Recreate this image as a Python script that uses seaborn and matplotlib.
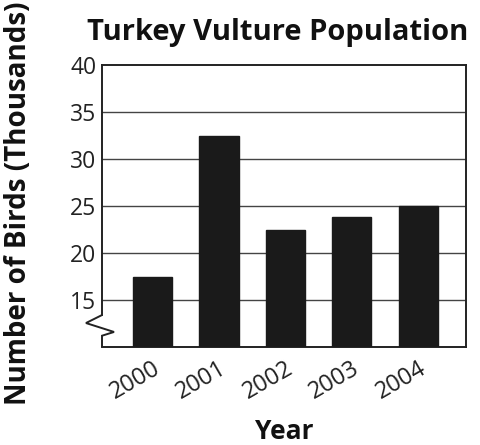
import matplotlib
matplotlib.use("Agg")
import matplotlib.pyplot as plt
import matplotlib.transforms as mtransforms
import seaborn as sns
import pandas as pd

years = ["2000", "2001", "2002", "2003", "2004"]
birds = [17.5, 32.5, 22.5, 23.8, 25.0]
yticks = [15, 20, 25, 30, 35, 40]

sns.set_theme(style="white")
plt.rcParams["font.family"] = ["Open Sans", "DejaVu Sans"]

df = pd.DataFrame({"Year": years, "Birds": birds})

fig = plt.figure(figsize=(4.8, 4.45), dpi=100)
ax = fig.add_axes([102/480, 1-347/445, 364/480, 282/445])

sns.barplot(data=df, x="Year", y="Birds", color="#1a1a1a", width=0.59,
            saturation=1, ax=ax, zorder=3)
for p in ax.patches:
    p.set_edgecolor("#1a1a1a")

ax.set_ylim(10, 40)
ax.set_xlim(-0.76, 4.72)
ax.set_yticks(yticks)
ax.set_yticklabels([str(t) for t in yticks], fontsize=16.5, color="#222222")
ax.tick_params(axis="y", length=0, pad=4)
ax.tick_params(axis="x", length=0, pad=7)
for lab in ax.get_xticklabels():
    lab.set_rotation(30)
    lab.set_ha("right")
    lab.set_rotation_mode("anchor")
    lab.set_fontsize(17)
    lab.set_color("#222222")

for t in yticks[:-1]:
    ax.axhline(t, color="#444444", lw=1.0, zorder=1)

for s in ax.spines.values():
    s.set_visible(True)
    s.set_color("#222222")
    s.set_linewidth(1.4)

# left spine with axis break symbol
ax.spines["left"].set_bounds(13.4, 40)
trans = mtransforms.blended_transform_factory(ax.transAxes, ax.transData)
ax.plot([0.0, 0.0, -0.044, 0.033, 0.0, 0.0],
        [13.4, 13.4, 12.55, 11.6, 11.2, 10.0],
        transform=trans, color="#222222", lw=1.4, clip_on=False,
        zorder=5, solid_joinstyle="miter", solid_capstyle="butt")

ax.set_xlabel("Year", fontsize=19, fontweight="bold", labelpad=10, color="#111111")
ax.set_ylabel("Number of Birds (Thousands)", fontsize=20, fontweight="bold",
              color="#111111")
ax.yaxis.set_label_coords(-0.19, 0.51)
ax.set_title("Turkey Vulture Population", fontsize=21, fontweight="bold",
             pad=18, color="#111111", x=0.482)

fig.savefig("out.png", dpi=100, facecolor="white")
